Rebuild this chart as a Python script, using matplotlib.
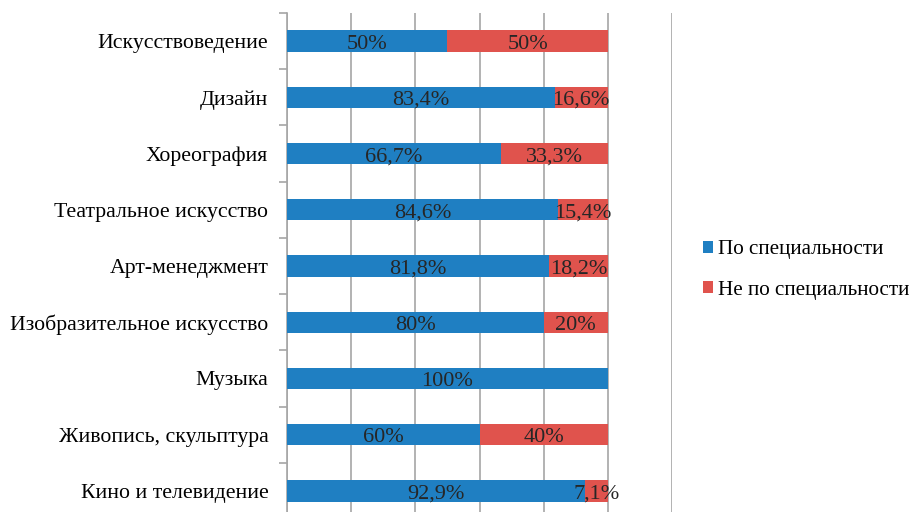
import numpy as np
import matplotlib.pyplot as plt

# Данные (снизу вверх)
categories = ['Кино и телевидение', 'Живопись, скульптура', 'Музыка',
              'Изобразительное искусство', 'Арт-менеджмент', 'Театральное искусство',
              'Хореография', 'Дизайн', 'Искусствоведение']
po_spec = [92.9, 60, 100, 80, 81.8, 84.6, 66.7, 83.4, 50]
ne_po_spec = [7.1, 40, 0, 20, 18.2, 15.4, 33.3, 16.6, 50]
po_labels = ['92,9%', '60%', '100%', '80%', '81,8%', '84,6%', '66,7%', '83,4%', '50%']
ne_labels = ['7,1%', '40%', '', '20%', '18,2%', '15,4%', '33,3%', '16,6%', '50%']

plt.rcParams['font.family'] = ['Liberation Serif', 'DejaVu Serif']

fig = plt.figure(figsize=(9.22, 5.12), dpi=100)
ax = fig.add_axes([287 / 922, -7 / 512, 385 / 922, 506 / 512])

y = np.arange(len(categories))
blue = '#1f7fc2'
red = '#e0534d'
b1 = ax.barh(y, po_spec, height=0.38, color=blue, label='По специальности', zorder=3)
b2 = ax.barh(y, ne_po_spec, left=po_spec, height=0.38, color=red,
             label='Не по специальности', zorder=3)

dy = -0.055  # чуть ниже центра, как в оригинале
for i in range(len(categories)):
    ax.text(po_spec[i] / 2, y[i] + dy, po_labels[i], ha='center', va='center',
            fontsize=16, color='#262626', zorder=4)
    if ne_labels[i]:
        ax.text(po_spec[i] + ne_po_spec[i] / 2, y[i] + dy, ne_labels[i], ha='center',
                va='center', fontsize=16, color='#262626', zorder=4)

ax.set_xlim(0, 120)
ax.set_ylim(-0.5, len(categories) - 0.5)
ax.set_xticks(np.arange(0, 121, 20))
ax.xaxis.grid(True, color='#a6a6a6', linewidth=1.2, zorder=0)
ax.tick_params(axis='x', length=0, labelbottom=False)

ax.set_yticks(y)
ax.set_yticklabels(categories, fontsize=15.7)
ax.set_yticks(np.arange(-0.5, len(categories), 1), minor=True)
ax.tick_params(axis='y', which='major', length=0, pad=13.5)
ax.tick_params(axis='y', which='minor', length=6, color='#a6a6a6', width=1.2)

for s in ['top', 'right', 'bottom']:
    ax.spines[s].set_visible(False)
ax.spines['left'].set_color('#a6a6a6')
ax.spines['left'].set_linewidth(1.2)

fig.legend(handles=[b1, b2], loc='center left', bbox_to_anchor=(684 / 922, 1 - 270 / 512),
           frameon=False, fontsize=15.2, handlelength=0.45, handleheight=0.45,
           handletextpad=0.25, labelspacing=1.0)

fig.savefig('out.png', dpi=100)
